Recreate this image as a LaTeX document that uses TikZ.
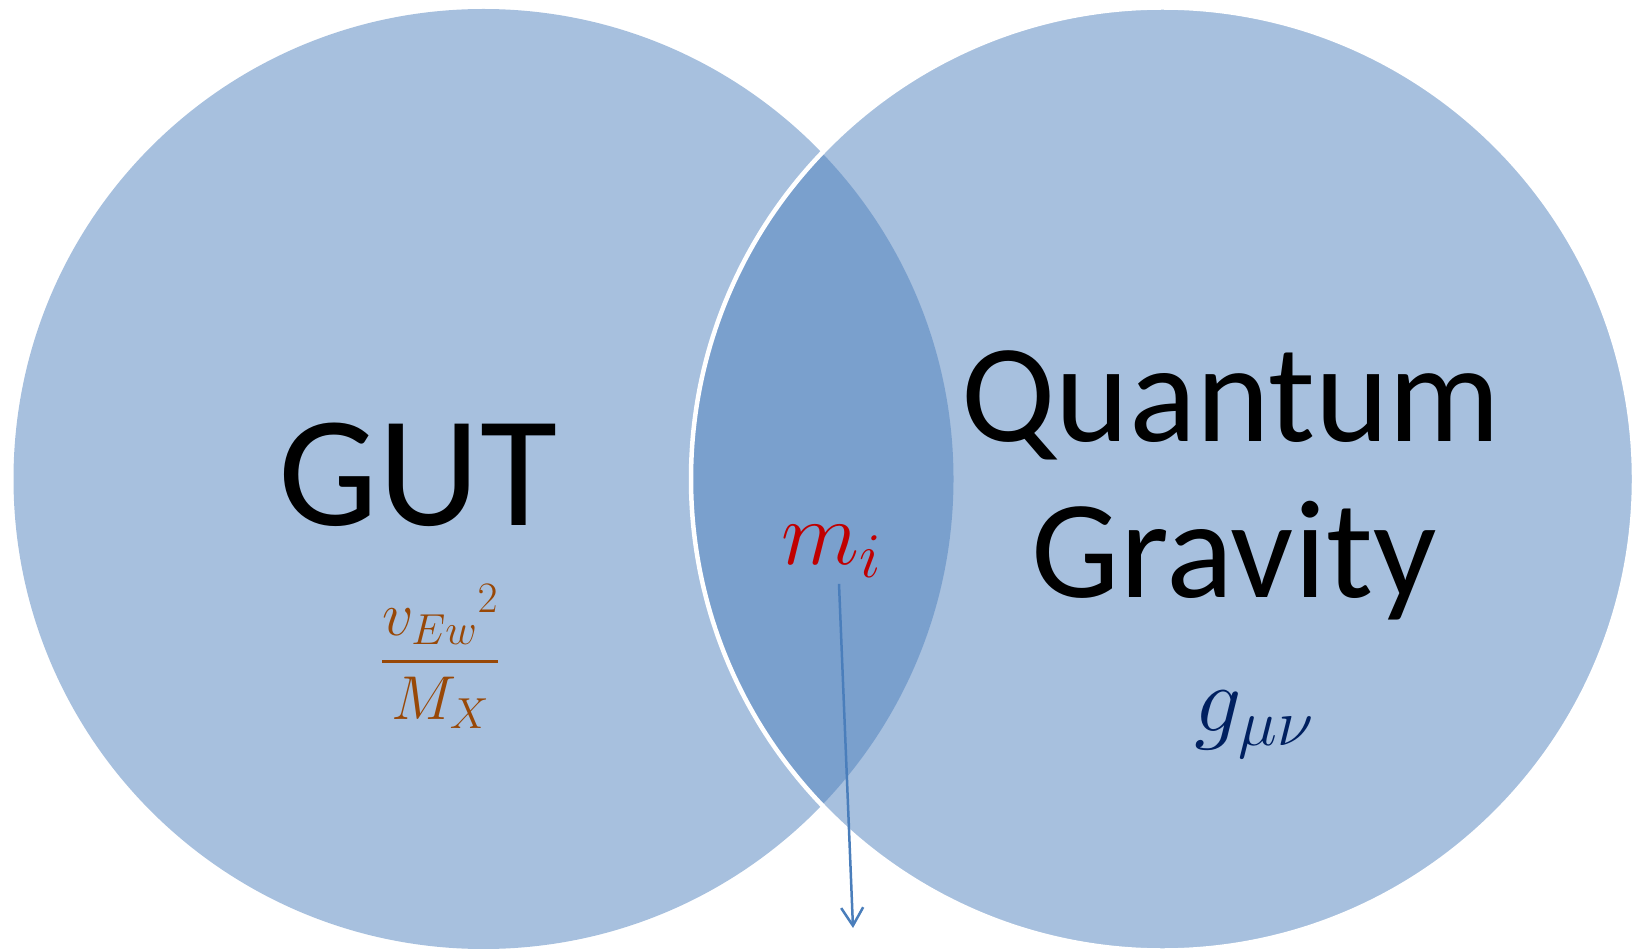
\RequirePackage{fix-cm}
\documentclass[tikz,border=0pt]{standalone}
\usepackage{fontspec}
\setmainfont{Carlito}
\usetikzlibrary{arrows.meta}
\definecolor{venn}{HTML}{4F81BD}
\definecolor{ratiobrown}{HTML}{984807}
\definecolor{massred}{HTML}{C00000}
\definecolor{metricblue}{HTML}{002060}
\definecolor{arrowblue}{HTML}{4A7EBB}

\begin{document}
\begin{tikzpicture}[x = 1pt, y = -1pt,
    set/.style = {fill = venn, fill opacity = .5},
    word/.style = {anchor = base, inner sep = 0pt}]
  \useasboundingbox (0,0) rectangle (1638,949);
  \coordinate (l) at (483.5,479);
  \coordinate (r) at (1162.5,479);
  \coordinate (tip) at (853,928);
  \fill [set] (l) circle [radius = 470pt];
  \draw [set, draw = white, line width = 4.5pt] (r) circle [radius = 471.5pt];
  \node [word, font = \fontsize{158}{160}\selectfont] (gut) at (418,525) {GUT};
  \node [word, font = \fontsize{140}{140}\selectfont] (quantum) at (1231,441) {Quantum};
  \node [word, font = \fontsize{140}{140}\selectfont] (gravity) at (1234,597) {Gravity};
  \node [word, text = ratiobrown, font = \fontsize{62}{64}\selectfont]
    (ratio) at (440,677) {$\displaystyle{{v_{Ew}}^{2} \above 3.5pt M_X}$};
  \node [word, text = massred, font = \fontsize{91}{96}\selectfont]
    (mass) at (831,564) {$m_i$};
  \node [word, text = metricblue, font = \fontsize{94}{96}\selectfont]
    (metric) at (1254,731) {$g_{\mu\nu}$};
  \draw [-{Straight Barb[length = 18pt, width = 22pt]}, arrowblue, line width = 2.5pt]
    (mass.south) ++(8,6) -- (tip);
\end{tikzpicture}
\end{document}
